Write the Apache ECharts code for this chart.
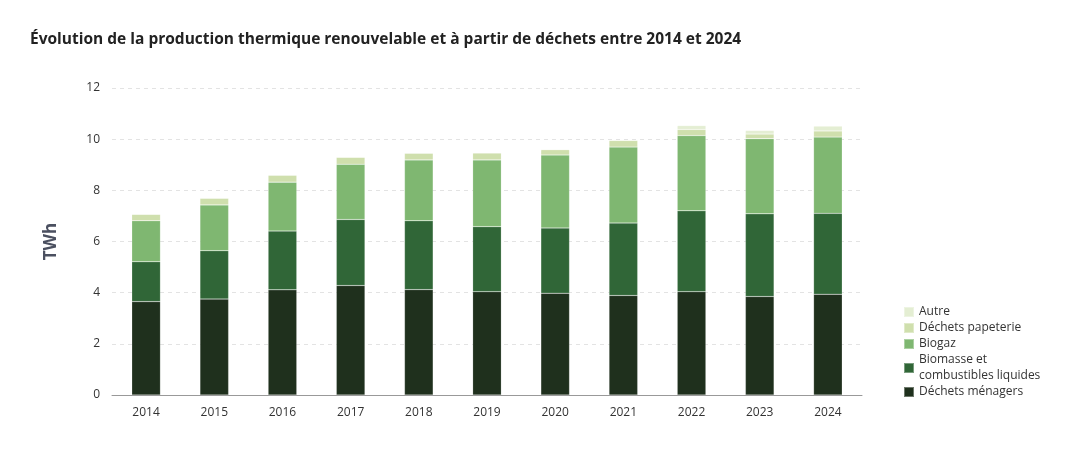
<!DOCTYPE html>
<html><head><meta charset="utf-8">
<script src="https://cdn.jsdelivr.net/npm/echarts@6/dist/echarts.min.js"></script>
<style>html,body{margin:0;padding:0;background:#fff}#c{width:1090px;height:467px}</style>
</head><body><div id="c"></div>
<script>
const categories = ['2014','2015','2016','2017','2018','2019','2020','2021','2022','2023','2024'];
const dechetsMenagers = [3.65, 3.75, 4.11, 4.28, 4.12, 4.04, 3.98, 3.89, 4.04, 3.85, 3.94];
const biomasse = [1.56, 1.89, 2.30, 2.58, 2.69, 2.54, 2.55, 2.83, 3.16, 3.23, 3.16];
const biogaz = [1.60, 1.79, 1.91, 2.16, 2.38, 2.61, 2.85, 2.97, 2.94, 2.94, 2.98];
const dechetsPapeterie = [0.25, 0.26, 0.27, 0.27, 0.26, 0.27, 0.21, 0.26, 0.24, 0.18, 0.24];
const autre = [0, 0, 0, 0, 0, 0, 0, 0, 0.15, 0.14, 0.19];
const yTicks = [0, 2, 4, 6, 8, 10, 12];

const font = 'Open Sans';
const mk = (name, data, color) => ({
  name, type: 'bar', stack: 'total', data, barWidth: '42%',
  itemStyle: { color, borderColor: 'rgba(255,255,255,0.35)', borderWidth: 0.5 }
});
const chart = echarts.init(document.getElementById('c'));
chart.setOption({
  animation: false,
  textStyle: { fontFamily: font },
  title: {
    text: 'Évolution de la production thermique renouvelable et à partir de déchets entre 2014 et 2024',
    left: 30, top: 32, padding: 0,
    textStyle: { fontFamily: font, fontSize: 15.5, fontWeight: 'bold', color: '#222' }
  },
  grid: { left: 112, right: 228, top: 88, bottom: 72 },
  legend: {
    orient: 'vertical', left: 903, top: 304, padding: 0,
    itemWidth: 10, itemHeight: 10, itemGap: 0,
    icon: 'rect',
    textStyle: { fontFamily: font, fontSize: 12, color: '#333', lineHeight: 16 },
    data: ['Autre', 'Déchets papeterie', 'Biogaz', 'Biomasse et\ncombustibles liquides', 'Déchets ménagers']
  },
  xAxis: {
    type: 'category', data: categories,
    axisLine: { lineStyle: { color: '#999' } },
    axisTick: { show: false },
    axisLabel: { color: '#333', fontSize: 12, margin: 12, fontFamily: font }
  },
  yAxis: {
    type: 'value', min: yTicks[0], max: yTicks[yTicks.length - 1], interval: 2,
    name: 'TWh', nameLocation: 'middle', nameGap: 52,
    nameTextStyle: { fontSize: 17, fontWeight: 'bold', color: '#4b5060', fontFamily: font },
    axisLine: { show: false }, axisTick: { show: false },
    axisLabel: { color: '#333', fontSize: 12, margin: 12, fontFamily: font },
    splitLine: { lineStyle: { color: '#e3e3e3', type: [4, 4] } }
  },
  series: [
    mk('Déchets ménagers', dechetsMenagers, '#1f301d'),
    mk('Biomasse et\ncombustibles liquides', biomasse, '#306637'),
    mk('Biogaz', biogaz, '#7fb771'),
    mk('Déchets papeterie', dechetsPapeterie, '#cfdfad'),
    mk('Autre', autre, '#e4eed3')
  ]
});
</script></body></html>
